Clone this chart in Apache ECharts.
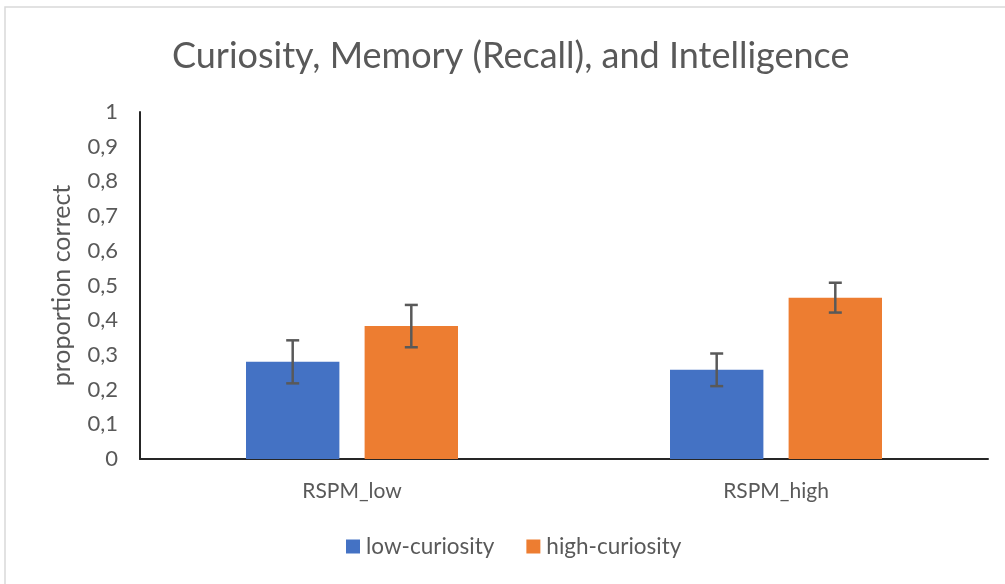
<!DOCTYPE html>
<html>
<head>
<meta charset="utf-8">
<script src="https://cdn.jsdelivr.net/npm/echarts@6/dist/echarts.min.js"></script>
<style>
  html, body { margin: 0; padding: 0; background: #fff; }
  #chart { width: 1005px; height: 584px; }
</style>
</head>
<body>
<div id="chart"></div>
<script>
var categories = ['RSPM_low', 'RSPM_high'];
var seriesNames = ['low-curiosity', 'high-curiosity'];
var lowCuriosity = [0.28, 0.257];
var highCuriosity = [0.383, 0.465];
var lowCuriosityErr = [0.062, 0.047];
var highCuriosityErr = [0.061, 0.043];
var colors = ['#4472c4', '#ed7d31'];

var catGap = 0.5, barGap = 0.27;

function errorSeries(values, errs, idx) {
  var data = [];
  for (var i = 0; i < values.length; i++) {
    data.push([i, values[i] - errs[i], values[i] + errs[i]]);
  }
  return {
    type: 'custom',
    silent: true,
    z: 10,
    data: data,
    encode: { x: 0, y: [1, 2] },
    renderItem: function (params, api) {
      var band = api.size([1, 0])[0];
      var bw = band * (1 - catGap) / (2 + barGap);
      var off = (idx === 0 ? -1 : 1) * bw * (1 + barGap) / 2;
      var lo = api.coord([api.value(0), api.value(1)]);
      var hi = api.coord([api.value(0), api.value(2)]);
      var x = lo[0] + off;
      var cap = 6.5;
      var style = { stroke: '#595959', lineWidth: 2.5 };
      return {
        type: 'group',
        children: [
          { type: 'line', shape: { x1: x, y1: lo[1], x2: x, y2: hi[1] }, style: style },
          { type: 'line', shape: { x1: x - cap, y1: lo[1], x2: x + cap, y2: lo[1] }, style: style },
          { type: 'line', shape: { x1: x - cap, y1: hi[1], x2: x + cap, y2: hi[1] }, style: style }
        ]
      };
    }
  };
}

var chart = echarts.init(document.getElementById('chart'));
var option = {
  animation: false,
  textStyle: { fontFamily: 'Lato, "Open Sans", sans-serif' },
  graphic: [{
    type: 'rect',
    shape: { x: 5, y: 7, width: 1020, height: 600 },
    style: { fill: 'none', stroke: '#d9d9d9', lineWidth: 1.5 },
    silent: true
  }],
  title: {
    text: 'Curiosity, Memory (Recall), and Intelligence',
    left: 167,
    top: 33,
    textStyle: { fontSize: 36, fontWeight: 'normal', color: '#595959' }
  },
  legend: {
    bottom: 21,
    left: 341,
    itemWidth: 14,
    itemHeight: 14,
    itemGap: 32,
    icon: 'rect',
    data: seriesNames,
    textStyle: { fontSize: 22.5, color: '#595959', padding: [0, 0, 0, 1] }
  },
  grid: { left: 140, right: 17, top: 112, bottom: 125 },
  xAxis: {
    type: 'category',
    data: categories,
    axisLine: { lineStyle: { color: '#262626', width: 2 } },
    axisTick: { show: false },
    axisLabel: { fontSize: 21, color: '#595959', margin: 22 }
  },
  yAxis: {
    type: 'value',
    min: 0,
    max: 1,
    interval: 0.1,
    name: 'proportion correct',
    nameLocation: 'middle',
    nameRotate: 90,
    nameGap: 66,
    nameTextStyle: { fontSize: 25, color: '#595959' },
    axisLine: { show: true, lineStyle: { color: '#262626', width: 2 } },
    axisTick: { show: false },
    splitLine: { show: false },
    axisLabel: {
      fontSize: 22,
      color: '#595959',
      margin: 22,
      formatter: function (v) { return String(+v.toFixed(1)).replace('.', ','); }
    }
  },
  series: [
    {
      name: seriesNames[0],
      type: 'bar',
      data: lowCuriosity,
      itemStyle: { color: colors[0] },
      barGap: (barGap * 100) + '%',
      barCategoryGap: (catGap * 100) + '%'
    },
    {
      name: seriesNames[1],
      type: 'bar',
      data: highCuriosity,
      itemStyle: { color: colors[1] }
    },
    errorSeries(lowCuriosity, lowCuriosityErr, 0),
    errorSeries(highCuriosity, highCuriosityErr, 1)
  ]
};
chart.setOption(option);
</script>
</body>
</html>
